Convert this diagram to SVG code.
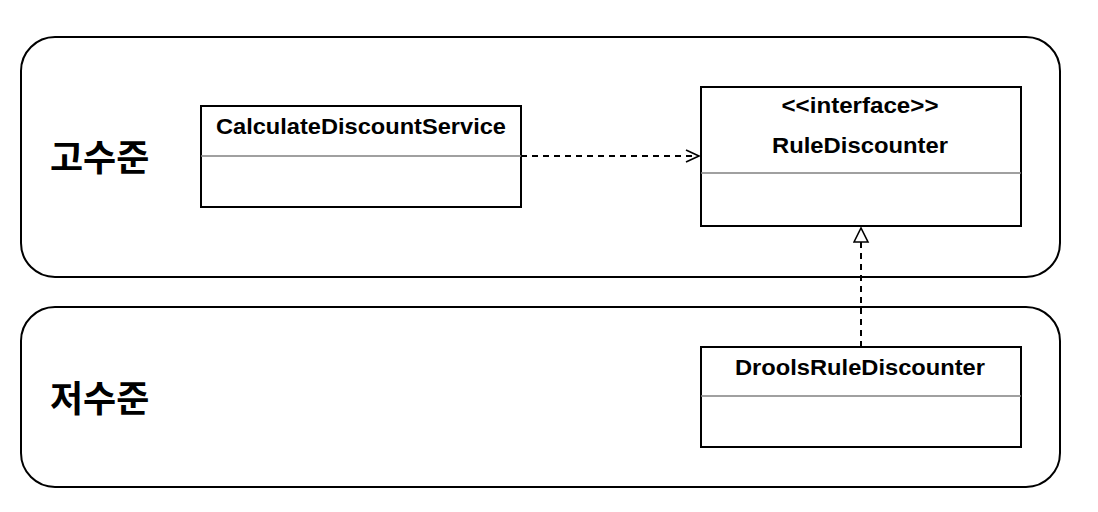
<svg xmlns="http://www.w3.org/2000/svg" width="1098" height="512" viewBox="0 0 1098 512">
<style>
.lane{fill:#fff;stroke:#000;stroke-width:2}
.cls{fill:#fff;stroke:#000;stroke-width:2}
.div{stroke:#808080;stroke-width:1.5}
.t{font-family:"Liberation Sans",Arial,sans-serif;font-weight:bold;font-size:21.5px;fill:#000;text-anchor:middle}
.k{font-family:"Noto Sans CJK KR","Noto Sans",sans-serif;font-weight:bold;font-size:36px;fill:#000}
.dash{fill:none;stroke:#000;stroke-width:2;stroke-dasharray:6 5}
</style>
<defs>
<marker id="open" markerWidth="16" markerHeight="14" refX="14" refY="7" orient="auto" markerUnits="userSpaceOnUse">
<path d="M1,1 L14,7 L1,13" fill="none" stroke="#000" stroke-width="1.6"/>
</marker>
<marker id="tri" markerWidth="16" markerHeight="18" refX="15" refY="8" orient="auto" markerUnits="userSpaceOnUse">
<path d="M1,1 L15,8 L1,15 Z" fill="#fff" stroke="#000" stroke-width="1.6"/>
</marker>
</defs>
<rect width="1098" height="512" fill="#fff"/>
<g id="high-level">
<rect class="lane" x="21" y="37" width="1039" height="240" rx="34" ry="34"/>
<text class="k" x="50" y="171">고수준</text>
</g>
<g id="low-level">
<rect class="lane" x="21" y="307" width="1039" height="180" rx="34" ry="34"/>
<text class="k" x="50" y="412">저수준</text>
</g>
<g id="CalculateDiscountService">
<rect class="cls" x="201" y="106" width="320" height="101"/>
<line class="div" x1="201" y1="156" x2="521" y2="156"/>
<text class="t" x="361" y="134" textLength="290" lengthAdjust="spacingAndGlyphs">CalculateDiscountService</text>
</g>
<g id="RuleDiscounter">
<rect class="cls" x="701" y="87" width="320" height="139"/>
<line class="div" x1="701" y1="173" x2="1021" y2="173"/>
<text class="t" x="860" y="113" textLength="157" lengthAdjust="spacingAndGlyphs">&lt;&lt;interface&gt;&gt;</text>
<text class="t" x="860" y="153" textLength="176" lengthAdjust="spacingAndGlyphs">RuleDiscounter</text>
</g>
<g id="DroolsRuleDiscounter">
<rect class="cls" x="701" y="347" width="320" height="100"/>
<line class="div" x1="701" y1="396" x2="1021" y2="396"/>
<text class="t" x="860" y="375" textLength="250" lengthAdjust="spacingAndGlyphs">DroolsRuleDiscounter</text>
</g>
<g id="connectors">
<path class="dash" d="M521,156 L699,156" marker-end="url(#open)"/>
<path class="dash" d="M861,347 L861,228" marker-end="url(#tri)"/>
</g>
</svg>
